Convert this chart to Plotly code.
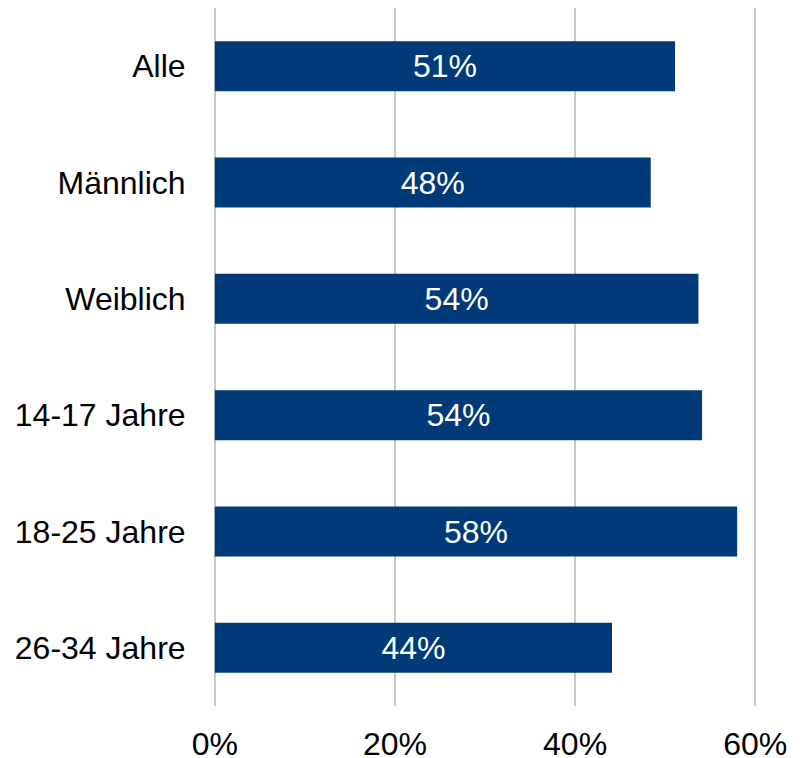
import plotly.graph_objects as go

categories = ["Alle", "Männlich", "Weiblich", "14-17 Jahre", "18-25 Jahre", "26-34 Jahre"]
values = [51.1, 48.4, 53.7, 54.1, 58.0, 44.1]
tick_vals = [0, 20, 40, 60]
tick_text = ["0%", "20%", "40%", "60%"]

fig = go.Figure(go.Bar(
    x=values, y=categories, orientation="h",
    marker=dict(color="#003A79", line=dict(width=0)),
    text=[f"{round(v)}%" for v in values],
    textposition="inside", insidetextanchor="middle",
    textfont=dict(color="white", size=32, family="Liberation Sans, Arial"),
    hoverinfo="skip",
))

# page body has an 8px default margin, so the figure is offset by 8px
fig.update_layout(
    width=792, height=750,
    margin=dict(l=205, r=43, t=0, b=52),
    paper_bgcolor="white", plot_bgcolor="white",
    bargap=0.57,
    showlegend=False,
    font=dict(family="Liberation Sans, Arial", size=32, color="black"),
)
fig.update_xaxes(
    range=[-0.2, 60.2], tickvals=tick_vals, ticktext=tick_text,
    showgrid=True, gridcolor="#c8c8c8", gridwidth=2,
    zeroline=False, showline=False, automargin=False,
    ticks="outside", ticklen=10, tickcolor="rgba(0,0,0,0)",
    tickfont=dict(size=32),
)
fig.update_yaxes(
    autorange="reversed", showgrid=False, zeroline=False, showline=False,
    automargin=False,
    ticks="outside", ticklen=20, tickcolor="rgba(0,0,0,0)",
    tickfont=dict(size=32),
)

fig.write_html("out.html")
